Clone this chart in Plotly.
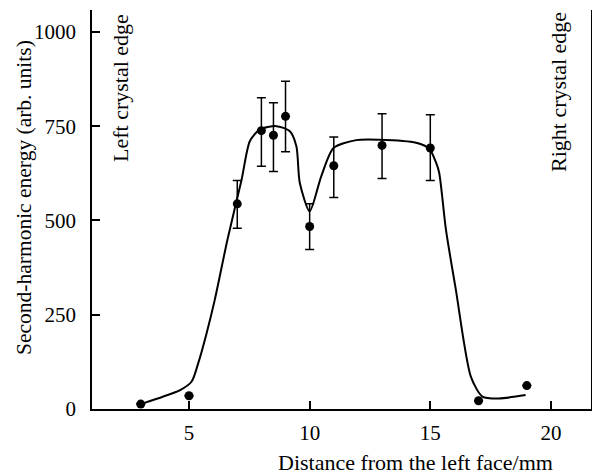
import plotly.graph_objects as go

# measured points with error bars
pts_x = [3, 5, 7, 8, 8.5, 9, 10, 11, 13, 15, 17, 19]
pts_y = [13, 35, 544, 738, 726, 776, 484, 645, 699, 692, 22, 62]
err_plus = [None, None, 62, 87, 86, 93, 60, 76, 84, 88, None, None]
err_minus = [None, None, 65, 94, 96, 94, 61, 84, 88, 86, None, None]

# smooth guide curve
curve_x = [3.0, 3.94, 4.63, 5.11, 5.38, 5.73, 6.07, 6.6, 7.18, 7.52, 7.93, 8.62, 9.17,
           9.45, 9.59, 10.0, 10.48, 10.99, 11.93, 12.89, 14.41, 14.96, 15.24, 15.37,
           15.65, 16.06, 16.68, 17.16, 17.85, 18.95]
curve_y = [13, 33, 50, 73, 121, 201, 290, 451, 608, 710, 741, 750, 737,
           697, 600, 524, 617, 692, 713, 714, 706, 690, 653, 626,
           475, 316, 86, 33, 28, 37]

x_ticks = [5, 10, 15, 20]
y_ticks = [0, 250, 500, 750, 1000]

FONT = "Liberation Serif, Times New Roman, serif"

fig = go.Figure()
fig.add_trace(go.Scatter(
    x=curve_x, y=curve_y, mode="lines",
    line=dict(color="black", width=2, shape="spline", smoothing=0.7),
    hoverinfo="skip", showlegend=False,
))
fig.add_trace(go.Scatter(
    x=pts_x, y=pts_y, mode="markers",
    marker=dict(color="black", size=9),
    error_y=dict(type="data", symmetric=False, array=err_plus, arrayminus=err_minus,
                 color="black", thickness=1.5, width=4.5),
    showlegend=False,
))

fig.update_layout(
    template="none",
    width=592, height=475,
    margin=dict(l=92, r=1, t=10, b=66, autoexpand=False),
    paper_bgcolor="white", plot_bgcolor="white",
    font=dict(family=FONT, size=22, color="black"),
    xaxis=dict(range=[0.98, 21.66], tickvals=x_ticks, ticks="inside", ticklen=8,
               tickwidth=1.5, tickcolor="black", showline=True, linecolor="black",
               linewidth=1.5, showgrid=False, zeroline=False, mirror=False,
               automargin=False, tickfont=dict(size=21), ticklabelstandoff=4),
    yaxis=dict(range=[0, 1058], tickvals=y_ticks, ticks="inside", ticklen=8,
               tickwidth=1.5, tickcolor="black", showline=True, linecolor="black",
               linewidth=1.5, showgrid=False, zeroline=False, mirror=True,
               automargin=False, tickfont=dict(size=21), ticklabelstandoff=10),
    annotations=[
        dict(text="Left crystal edge", textangle=-90, xref="paper", yref="paper",
             x=(120 - 92) / 499, y=(475 - 66 - 12) / 399, xanchor="center", yanchor="top",
             showarrow=False),
        dict(text="Right crystal edge", textangle=-90, xref="paper", yref="paper",
             x=(558 - 92) / 499, y=(475 - 66 - 10) / 399, xanchor="center", yanchor="top",
             showarrow=False),
        dict(text="Distance from the left face/mm", xref="paper", yref="paper",
             x=(415 - 92) / 499, y=(409 - 462) / 399, xanchor="center", yanchor="middle",
             showarrow=False),
        dict(text="Second-harmonic energy (arb. units)", textangle=-90, xref="paper", yref="paper",
             x=(24 - 92) / 499, y=(409 - 198) / 399, xanchor="center", yanchor="middle",
             showarrow=False, font=dict(size=21.5)),
    ],
)

fig.write_html("out.html", config={"displayModeBar": False},
               post_script="document.body.style.margin='0';document.body.style.overflow='hidden';")
